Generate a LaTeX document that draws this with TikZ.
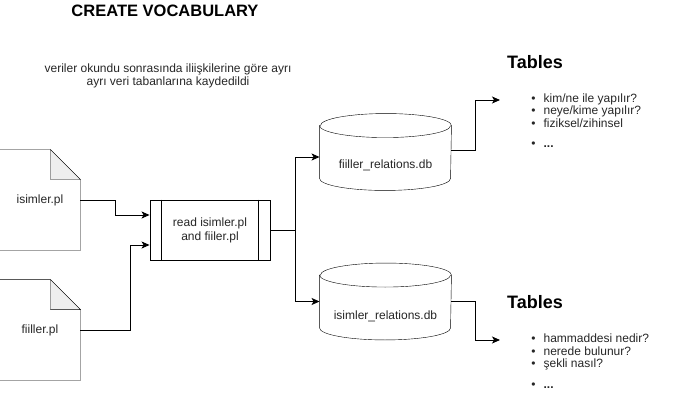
\documentclass[tikz,border=0pt]{standalone}
\usepackage{fontspec}
\setmainfont{Liberation Sans}
\usetikzlibrary{arrows.meta,positioning,calc,backgrounds}
\definecolor{foldgray}{RGB}{238,238,238}

\begin{document}
\begin{tikzpicture}[
    x=1pt,y=-1pt,
    line width=0.9pt,
    txt/.style={font=\fontsize{12}{14}\selectfont,text=black!85,inner sep=0pt,align=center},
    docbox/.style={minimum width=80pt,minimum height=100pt,inner sep=0pt,font=\fontsize{12}{14}\selectfont,text=black!85},
    procbox/.style={rectangle,draw,minimum width=120pt,minimum height=60pt,inner sep=0pt,align=center,font=\fontsize{12}{14}\selectfont,text=black!85},
    dbbox/.style={minimum width=131pt,minimum height=76pt,inner sep=0pt},
    heading/.style={font=\bfseries\fontsize{18}{20}\selectfont,inner sep=0pt},
    itemlist/.style={font=\fontsize{12}{12.5}\selectfont,text=black!85,align=left,inner sep=0pt,anchor=north west},
    arrow/.style={->,>={Stealth[length=8pt,width=7pt,inset=2pt]}}
]
    \useasboundingbox (0,0) rectangle (691,401);

    % titles
    \node[font=\bfseries\fontsize{16.5}{18}\selectfont,inner sep=0pt] (title) at (165,11) {CREATE VOCABULARY};
    \node[txt,font=\fontsize{12}{13.5}\selectfont] (note) at (168,76) {veriler okundu sonrasında iliişkilerine göre ayrı\\ayrı veri tabanlarına kaydedildi};

    % source files
    \node[docbox] (isim) at (40,200) {isimler.pl};
    \node[docbox] (fiil) at (40,330) {fiiller.pl};

    % reader
    \node[procbox,fill=white] (read) at (210,230) {read isimler.pl\\and fiiler.pl};
    \draw ($(read.north west)+(12,0)$) -- ($(read.south west)+(12,0)$);
    \draw ($(read.north east)+(-12,0)$) -- ($(read.south east)+(-12,0)$);

    % databases
    \node[dbbox,label={[txt,yshift=-13pt]center:fiiller\_relations.db}] (fdb) at (385.5,152) {};
    \node[dbbox,label={[txt,yshift=-15pt]center:isimler\_relations.db}] (idb) at (385.5,301.5) {};

    % shapes behind the texts
    \begin{scope}[on background layer]
    \foreach \f in {isim,fiil}{
        \draw[fill=white] (\f.north west) -- ($(\f.north east)+(-30,0)$) -- ($(\f.north east)+(0,30)$) -- (\f.south east) -- (\f.south west) -- cycle;
        \draw[fill=foldgray] ($(\f.north east)+(-30,0)$) -- ($(\f.north east)+(-30,30)$) -- ($(\f.north east)+(0,30)$) -- cycle;
    }
    \foreach \db in {fdb,idb}{
        \draw[fill=white] ($(\db.north west)+(0,12)$) -- ($(\db.south west)+(0,-12)$)
            arc[start angle=180,end angle=0,x radius=65.5,y radius=12]
            -- ($(\db.north east)+(0,12)$)
            arc[start angle=0,end angle=-180,x radius=65.5,y radius=12] -- cycle;
        \draw ($(\db.north west)+(0,12)$) arc[start angle=180,end angle=0,x radius=65.5,y radius=12];
    }
    \end{scope}

    % tables
    \node[heading] (ftab) at (535,62) {Tables};
    \node[itemlist] (flist) at (531,93) {\textbullet\hspace{8pt}kim/ne ile yapılır?\\\textbullet\hspace{8pt}neye/kime yapılır?\\\textbullet\hspace{8pt}fiziksel/zihinsel\\[8pt]\textbullet\hspace{8pt}\textbf{...}};
    \node[heading] (itab) at (535,302) {Tables};
    \node[itemlist] (ilist) at (531,333.5) {\textbullet\hspace{8pt}hammaddesi nedir?\\\textbullet\hspace{8pt}nerede bulunur?\\\textbullet\hspace{8pt}şekli nasıl?\\[8pt]\textbullet\hspace{8pt}\textbf{...}};
    \coordinate (ftip) at (500,100);
    \coordinate (itip) at (500,340);

    % connectors
    \draw[arrow] (isim.east) -- ++(35,0) |- ($(read.west)+(0,-15)$);
    \draw[arrow] (fiil.east) -- ++(50,0) |- ($(read.west)+(0,15)$);
    \draw[arrow] (read.east) -- ++(25,0) |- ($(fdb.west)+(0,5)$);
    \draw[arrow] (read.east) -- ++(25,0) |- (idb.west);
    \draw[arrow] ($(fdb.east)+(0,-2)$) -- ++(24,0) |- (ftip);
    \draw[arrow] (idb.east) -- ++(24,0) |- (itip);
\end{tikzpicture}
\end{document}
